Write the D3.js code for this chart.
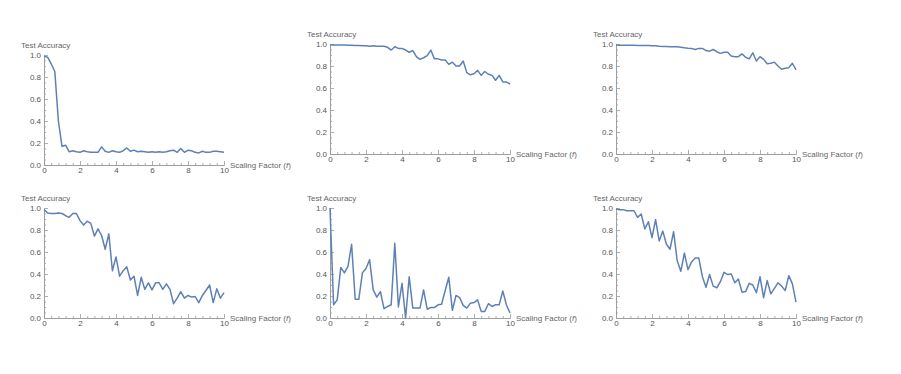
<!DOCTYPE html>
<html>
<head>
<meta charset="utf-8">
<script src="https://cdn.jsdelivr.net/npm/d3@7"></script>
<style>
  body { margin: 0; background: #fff; }
  svg text { font-family: "Liberation Sans", Arial, sans-serif; }
</style>
</head>
<body>
<svg id="chart" width="901" height="374"></svg>
<script>
// scaling factor f, shared by every panel
var scalingFactors = [0, 0.2, 0.4, 0.6, 0.8, 1, 1.2, 1.4, 1.6, 1.8,
    2, 2.2, 2.4, 2.6, 2.8, 3, 3.2, 3.4, 3.6, 3.8,
    4, 4.2, 4.4, 4.6, 4.8, 5, 5.2, 5.4, 5.6, 5.8,
    6, 6.2, 6.4, 6.6, 6.8, 7, 7.2, 7.4, 7.6, 7.8,
    8, 8.2, 8.4, 8.6, 8.8, 9, 9.2, 9.4, 9.6, 9.8, 10];

var accTopLeft = [0.99, 0.98, 0.92, 0.85, 0.40, 0.17, 0.18, 0.12, 0.13, 0.12,
    0.115, 0.13, 0.12, 0.115, 0.115, 0.115, 0.165, 0.125, 0.115, 0.13,
    0.12, 0.115, 0.13, 0.155, 0.125, 0.135, 0.12, 0.125, 0.12, 0.115,
    0.12, 0.115, 0.12, 0.115, 0.12, 0.13, 0.135, 0.115, 0.15, 0.115,
    0.135, 0.13, 0.115, 0.11, 0.125, 0.115, 0.115, 0.125, 0.125, 0.12, 0.115];

var accTopMid = [0.99, 0.99, 0.99, 0.99, 0.99, 0.988, 0.988, 0.987, 0.986, 0.985,
    0.983, 0.98, 0.985, 0.98, 0.98, 0.98, 0.97, 0.945, 0.975, 0.96,
    0.96, 0.945, 0.925, 0.94, 0.885, 0.86, 0.875, 0.895, 0.945, 0.865,
    0.865, 0.855, 0.855, 0.815, 0.835, 0.80, 0.80, 0.845, 0.74, 0.72,
    0.73, 0.76, 0.715, 0.75, 0.725, 0.715, 0.67, 0.715, 0.655, 0.655, 0.635];

var accTopRight = [0.99, 0.989, 0.989, 0.988, 0.988, 0.988, 0.987, 0.987, 0.986, 0.986,
    0.985, 0.983, 0.98, 0.978, 0.977, 0.975, 0.975, 0.975, 0.97, 0.965,
    0.962, 0.96, 0.95, 0.96, 0.96, 0.94, 0.935, 0.95, 0.93, 0.915,
    0.925, 0.925, 0.89, 0.885, 0.885, 0.91, 0.88, 0.865, 0.92, 0.845,
    0.885, 0.86, 0.82, 0.825, 0.835, 0.80, 0.77, 0.78, 0.785, 0.825, 0.765];

var accBottomLeft = [0.985, 0.955, 0.95, 0.95, 0.955, 0.95, 0.93, 0.915, 0.95, 0.95,
    0.885, 0.845, 0.88, 0.86, 0.745, 0.81, 0.75, 0.625, 0.765, 0.43,
    0.555, 0.38, 0.43, 0.465, 0.345, 0.38, 0.205, 0.37, 0.26, 0.32,
    0.255, 0.32, 0.32, 0.26, 0.31, 0.26, 0.13, 0.18, 0.24, 0.18,
    0.205, 0.19, 0.195, 0.14, 0.205, 0.25, 0.30, 0.14, 0.265, 0.18, 0.23];

var accBottomMid = [1.0, 0.12, 0.165, 0.46, 0.41, 0.47, 0.67, 0.17, 0.17, 0.41,
    0.45, 0.53, 0.255, 0.19, 0.24, 0.085, 0.105, 0.12, 0.68, 0.10,
    0.315, 0.0, 0.375, 0.09, 0.09, 0.09, 0.255, 0.08, 0.095, 0.095,
    0.12, 0.125, 0.25, 0.37, 0.07, 0.205, 0.185, 0.115, 0.09, 0.135,
    0.14, 0.165, 0.06, 0.06, 0.13, 0.105, 0.12, 0.12, 0.245, 0.12, 0.045];

var accBottomRight = [0.99, 0.985, 0.985, 0.975, 0.975, 0.975, 0.915, 0.945, 0.81, 0.875,
    0.73, 0.895, 0.70, 0.79, 0.67, 0.625, 0.785, 0.52, 0.425, 0.59,
    0.44, 0.51, 0.545, 0.545, 0.375, 0.28, 0.395, 0.29, 0.275, 0.33,
    0.415, 0.395, 0.40, 0.32, 0.355, 0.235, 0.24, 0.315, 0.30, 0.23,
    0.375, 0.185, 0.34, 0.22, 0.27, 0.32, 0.29, 0.25, 0.385, 0.31, 0.145];

var xMajorTicks = [0, 2, 4, 6, 8, 10];
var xMinorTicks = [0.4, 0.8, 1.2, 1.6, 2.4, 2.8, 3.2, 3.6, 4.4, 4.8, 5.2, 5.6,
    6.4, 6.8, 7.2, 7.6, 8.4, 8.8, 9.2, 9.6];
var yMajorTicks = [0, 0.2, 0.4, 0.6, 0.8, 1.0];
var yMinorTicks = [0.05, 0.1, 0.15, 0.25, 0.3, 0.35, 0.45, 0.5, 0.55,
    0.65, 0.7, 0.75, 0.85, 0.9, 0.95];

// where each panel's origin (0,0) sits on the page
var panels = [
    { values: accTopLeft,     left: 44,  bottom: 165 },
    { values: accTopMid,      left: 330, bottom: 154 },
    { values: accTopRight,    left: 616, bottom: 154 },
    { values: accBottomLeft,  left: 44,  bottom: 318 },
    { values: accBottomMid,   left: 330, bottom: 318 },
    { values: accBottomRight, left: 616, bottom: 318 }
];

var plotW = 180, plotH = 110;
var axisColor = "#9a9a9a", labelColor = "#555", lineColor = "#5e81b5";

var svg = d3.select("#chart");

panels.forEach(function(p) {
    var x = d3.scaleLinear().domain([0, 10]).range([0, plotW]);
    var y = d3.scaleLinear().domain([0, 1]).range([plotH, 0]);

    var g = svg.append("g")
        .attr("transform", "translate(" + p.left + "," + (p.bottom - plotH) + ")");

    // minor ticks first, so the major axes draw over them
    g.append("g")
        .attr("transform", "translate(0," + plotH + ")")
        .call(d3.axisBottom(x).tickValues(xMinorTicks).tickSizeInner(-2).tickSizeOuter(0).tickFormat(""));
    g.append("g")
        .call(d3.axisLeft(y).tickValues(yMinorTicks).tickSizeInner(-2).tickSizeOuter(0).tickFormat(""));

    g.append("g")
        .attr("transform", "translate(0," + plotH + ")")
        .call(d3.axisBottom(x).tickValues(xMajorTicks).tickSizeInner(-4).tickSizeOuter(0).tickPadding(2)
            .tickFormat(d3.format("d")));
    g.append("g")
        .call(d3.axisLeft(y).tickValues(yMajorTicks).tickSizeInner(-4).tickSizeOuter(0).tickPadding(3)
            .tickFormat(d3.format(".1f")));

    g.selectAll(".domain, .tick line").attr("stroke", axisColor).attr("stroke-width", 0.8);
    g.selectAll(".tick text").attr("fill", labelColor).attr("font-size", 8)
        .attr("font-family", "'Liberation Sans', Arial, sans-serif");

    var line = d3.line()
        .x(function(d, i) { return x(scalingFactors[i]); })
        .y(function(d) { return y(d); });

    g.append("path")
        .datum(p.values)
        .attr("fill", "none")
        .attr("stroke", lineColor)
        .attr("stroke-width", 1.5)
        .attr("stroke-linejoin", "round")
        .attr("d", line);

    g.append("text")
        .attr("x", -23)
        .attr("y", -7)
        .attr("font-size", 8)
        .attr("fill", "#666")
        .text("Test Accuracy");

    var xl = g.append("text")
        .attr("x", plotW + 6)
        .attr("y", plotH + 3)
        .attr("font-size", 8)
        .attr("fill", "#666");
    xl.append("tspan").text("Scaling Factor (");
    xl.append("tspan").attr("font-style", "italic").text("f");
    xl.append("tspan").text(")");
});
</script>
</body>
</html>
